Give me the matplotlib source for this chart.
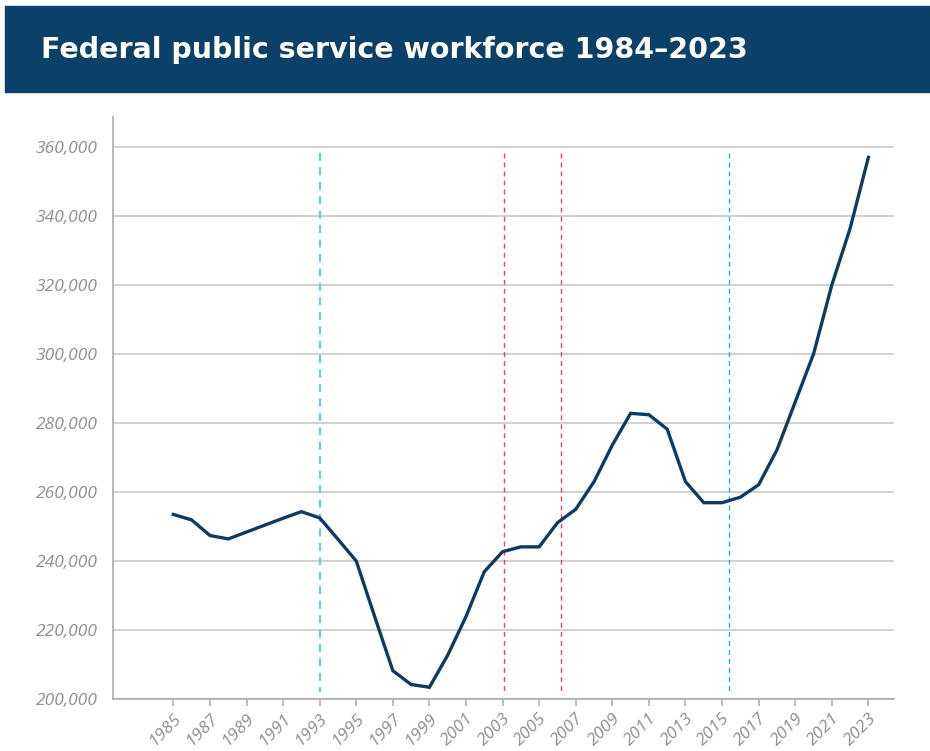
import matplotlib
matplotlib.use('Agg')
import matplotlib.pyplot as plt
import matplotlib.ticker as mticker
import numpy as np

# dati
anni = list(range(1985, 2024))
dipendenti = [253500, 251900, 247400, 246400, 248400, 250400, 252400, 254300,
              252500, 246300, 240000, 224000, 208200, 204200, 203400, 212700,
              223900, 236900, 242700, 244100, 244100, 251100, 255000, 263000,
              273600, 282800, 282400, 278200, 263000, 256900, 256900, 258500,
              262100, 272200, 286100, 300000, 320000, 336400, 357000]
tick_anni = list(range(1985, 2024, 2))
tick_y = list(range(200000, 360001, 20000))
# linee verticali (cambi di governo)
eventi = [1993.0, 2003.1, 2006.2, 2015.4]
colori_eventi = ['#62CBEE', '#F2405A', '#F2405A', '#1BB3E6']
spessori_eventi = [1.6, 1.0, 1.0, 1.0]

fig = plt.figure(figsize=(9.3, 7.51), dpi=100)
fig.patches.append(plt.Rectangle((5/930, 1-92/751), 925/930, 86/751,
                                 transform=fig.transFigure, color='#0B4068', zorder=0))
fig.text(41/930, 1-50/751, 'Federal public service workforce 1984\u20132023',
         color='white', fontsize=20.5, fontweight='bold', family='DejaVu Sans', va='center')

ax = fig.add_axes([113/930, 1-699/751, (894-113)/930, (699-117)/751])
ax.set_xlim(1981.7, 2024.4)
ax.set_ylim(200000, 368700)

for x, c, lw in zip(eventi, colori_eventi, spessori_eventi):
    ax.plot([x, x], [358200, 202000], color=c, lw=lw, ls=(0, (3.5, 3)), zorder=2)

ax.plot(anni, dipendenti, color='#0E3B63', lw=2.4, zorder=3, solid_joinstyle='miter')

ax.set_yticks(tick_y)
ax.yaxis.set_major_formatter(mticker.FuncFormatter(lambda v, p: f'{int(v):,}'))
ax.set_xticks(tick_anni)
ax.set_xticklabels([str(a) for a in tick_anni], rotation=45, ha='right',
                   rotation_mode='anchor')
ax.grid(axis='y', color='#C4C4C4', lw=1.1)
ax.set_axisbelow(True)
for s in ['top', 'right']:
    ax.spines[s].set_visible(False)
for s in ['left', 'bottom']:
    ax.spines[s].set_color('#AAAAAA')
    ax.spines[s].set_linewidth(1.2)
ax.tick_params(axis='y', length=0, pad=11, labelsize=12.5, labelcolor='#8E8E8E')
ax.tick_params(axis='x', length=5, width=1.1, color='#AAAAAA', pad=3,
               labelsize=12.5, labelcolor='#8E8E8E')
for lab in ax.get_xticklabels() + ax.get_yticklabels():
    lab.set_style('italic')
    lab.set_family('Open Sans')

plt.savefig('out.png', dpi=100)
